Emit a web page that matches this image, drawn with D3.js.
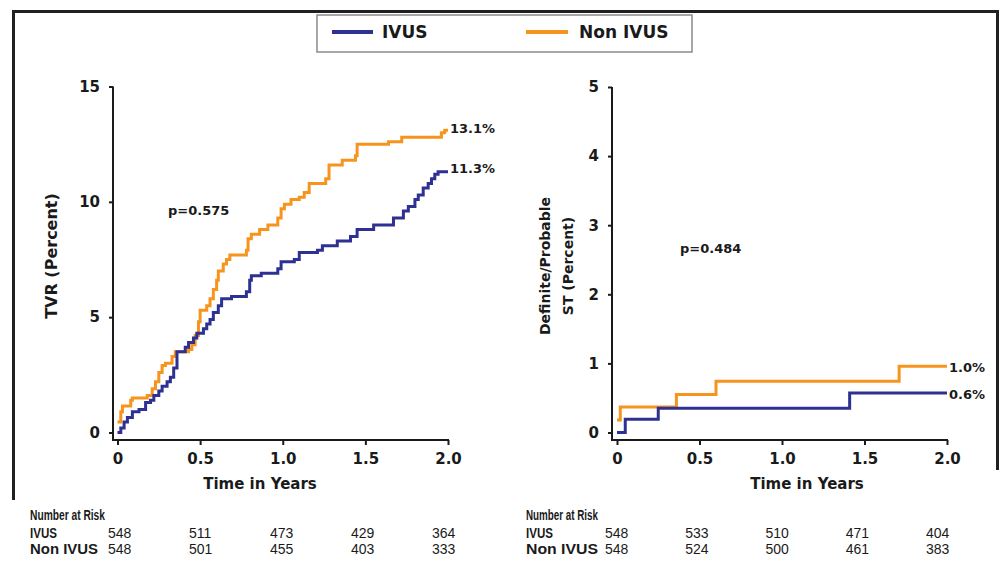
<!DOCTYPE html>
<html><head><meta charset="utf-8">
<script src="https://cdn.jsdelivr.net/npm/d3@7"></script>
<style>
body{margin:0;background:#fff}
svg{display:block}
text{font-family:"DejaVu Sans",Arial,sans-serif;font-weight:bold;fill:#1a1a1a}
</style>
</head><body>
<svg id="c" width="1005" height="573"></svg>
<script>
// ---------- DATA ----------
const seriesNames = ["IVUS", "Non IVUS"];
const seriesColors = ["#2E3192", "#F7941D"];

// TVR (percent), [time in years, cumulative %] at each step
const tvrIVUS = [[0,0],[0.02,0.2],[0.04,0.45],[0.06,0.65],[0.09,0.9],[0.13,1.0],[0.17,1.3],[0.20,1.4],[0.22,1.6],[0.25,1.8],[0.27,2.0],[0.30,2.2],[0.32,2.4],[0.34,2.8],[0.36,3.5],[0.41,3.7],[0.43,3.9],[0.46,4.1],[0.48,4.3],[0.52,4.5],[0.54,4.7],[0.56,4.9],[0.58,5.2],[0.61,5.5],[0.63,5.8],[0.69,5.9],[0.78,6.1],[0.80,6.6],[0.81,6.8],[0.87,6.9],[0.97,7.1],[0.99,7.4],[1.07,7.5],[1.10,7.8],[1.21,7.9],[1.24,8.1],[1.33,8.3],[1.41,8.5],[1.45,8.8],[1.55,9.0],[1.67,9.3],[1.73,9.6],[1.76,9.8],[1.80,10.1],[1.82,10.3],[1.85,10.6],[1.88,10.8],[1.90,11.0],[1.92,11.2],[1.94,11.3],[2.0,11.3]];
const tvrNonIVUS = [[0,0.45],[0.02,0.9],[0.03,1.15],[0.08,1.4],[0.09,1.5],[0.18,1.6],[0.21,1.9],[0.23,2.2],[0.25,2.6],[0.27,2.9],[0.29,3.0],[0.33,3.3],[0.35,3.5],[0.43,3.6],[0.45,3.8],[0.47,4.2],[0.49,4.8],[0.50,5.3],[0.54,5.5],[0.56,5.8],[0.58,6.2],[0.60,6.6],[0.61,7.0],[0.64,7.3],[0.66,7.5],[0.68,7.7],[0.78,7.9],[0.79,8.4],[0.81,8.6],[0.86,8.8],[0.91,9.0],[0.97,9.3],[0.99,9.7],[1.01,9.9],[1.05,10.1],[1.10,10.2],[1.13,10.4],[1.16,10.8],[1.26,11.0],[1.28,11.6],[1.36,11.8],[1.44,12.0],[1.45,12.5],[1.64,12.6],[1.72,12.8],[1.96,13.0],[1.98,13.1],[2.0,13.1]];

// Definite/Probable ST (percent)
const stIVUS = [[0,0],[0.05,0.19],[0.25,0.35],[1.41,0.57],[2.0,0.57]];
const stNonIVUS = [[0,0.18],[0.02,0.37],[0.36,0.55],[0.60,0.74],[1.71,0.96],[2.0,0.96]];

const endLabelsTVR = ["11.3%", "13.1%"];
const endLabelsST = ["0.6%", "1.0%"];
const pTVR = "p=0.575";
const pST = "p=0.484";

const xTicks = [0, 0.5, 1.0, 1.5, 2.0];
const xTickLabels = ["0", "0.5", "1.0", "1.5", "2.0"];
const yTicksTVR = [0, 5, 10, 15];
const yTicksST = [0, 1, 2, 3, 4, 5];

const riskTimes = [0, 0.5, 1.0, 1.5, 2.0];
const riskTVR_IVUS = [548, 511, 473, 429, 364];
const riskTVR_Non = [548, 501, 455, 403, 333];
const riskST_IVUS = [548, 533, 510, 471, 404];
const riskST_Non = [548, 524, 500, 461, 383];

// ---------- DRAW ----------
const svg = d3.select("#c");

// frame
svg.append("path").attr("d", "M13.5,500 L13.5,11.5 L997.5,11.5 L997.5,470")
  .attr("fill", "none").attr("stroke", "#231f20").attr("stroke-width", 3);

// legend
const lg = svg.append("g");
lg.append("rect").attr("x", 317).attr("y", 15).attr("width", 375).attr("height", 37)
  .attr("fill", "#fff").attr("stroke", "#8a8a8a").attr("stroke-width", 1.5);
const legX = [[332, 373, 382], [526, 568, 579]];
seriesNames.forEach((n, i) => {
  lg.append("line").attr("x1", legX[i][0]).attr("x2", legX[i][1]).attr("y1", 32).attr("y2", 32)
    .attr("stroke", seriesColors[i]).attr("stroke-width", 4);
  lg.append("text").attr("x", legX[i][2]).attr("y", 32).attr("dy", "0.36em")
    .style("font-size", "17px").text(n);
});

function panel(cfg) {
  const g = svg.append("g");
  const x = d3.scaleLinear().domain([0, 2]).range(cfg.xr);
  const y = d3.scaleLinear().domain([0, cfg.ymax]).range(cfg.yr);
  const axX = cfg.axisX, axY = cfg.axisY;

  // axis lines
  g.append("path").attr("d", `M${axX},${y(cfg.ymax)} L${axX},${axY} L${x(2) + 1},${axY}`)
    .attr("fill", "none").attr("stroke", "#1a1a1a").attr("stroke-width", 2);

  // y axis ticks
  const ya = g.append("g").attr("transform", `translate(${axX},0)`)
    .call(d3.axisLeft(y).tickValues(cfg.yTicks).tickSize(4).tickPadding(9).tickFormat(d3.format("d")));
  ya.select(".domain").remove();
  ya.selectAll(".tick line").attr("stroke", "#1a1a1a").attr("stroke-width", 2);
  ya.selectAll(".tick text").style("font-size", "15px").style("font-family", '"DejaVu Sans",Arial,sans-serif').attr("fill", "#1a1a1a");

  // x axis ticks
  const xa = g.append("g").attr("transform", `translate(0,${axY})`)
    .call(d3.axisBottom(x).tickValues(xTicks).tickSize(5).tickPadding(8).tickFormat((d, i) => xTickLabels[i]));
  xa.select(".domain").remove();
  xa.selectAll(".tick line").attr("stroke", "#1a1a1a").attr("stroke-width", 2);
  xa.selectAll(".tick text").style("font-size", "15px").style("font-family", '"DejaVu Sans",Arial,sans-serif').attr("fill", "#1a1a1a");

  // x label
  g.append("text").attr("x", cfg.xLabelX).attr("y", 484).attr("dy", "0.36em").attr("text-anchor", "middle")
    .style("font-size", "15px").text("Time in Years");

  // y label(s)
  cfg.yLabels.forEach((t, i) => {
    g.append("text").attr("transform", `translate(${cfg.yLabelX[i]},${cfg.yLabelY}) rotate(-90)`)
      .attr("text-anchor", "middle").attr("dy", "0.36em").style("font-size", cfg.yLabelSize).text(t);
  });

  // curves
  const line = d3.line().x(d => x(d[0])).y(d => y(d[1])).curve(d3.curveStepAfter);
  [1, 0].forEach(i => {
    g.append("path").datum(cfg.series[i]).attr("d", line)
      .attr("fill", "none").attr("stroke", seriesColors[i]).attr("stroke-width", 3);
  });

  // end labels
  cfg.endLabels.forEach((t, i) => {
    g.append("text").attr("x", x(2) + 2).attr("y", cfg.endLabelY[i]).attr("dy", "0.36em")
      .style("font-size", "13px").text(t);
  });

  // p-value
  g.append("text").attr("x", cfg.pPos[0]).attr("y", cfg.pPos[1]).attr("dy", "0.36em")
    .style("font-size", "13px").text(cfg.p);

  // number at risk
  const rx = d3.scaleLinear().domain([0, 2]).range(cfg.riskRange);
  const narFont = '"Liberation Sans",Arial,sans-serif';
  g.append("text").attr("x", cfg.riskLabelX).attr("y", 515).attr("dy", "0.36em")
    .style("font-family", narFont).style("font-size", "14px")
    .attr("textLength", cfg.riskLabelW[0]).attr("lengthAdjust", "spacingAndGlyphs").text("Number at Risk");
  const rows = [[seriesNames[0], cfg.risk[0], 533, cfg.riskLabelW[1]], [seriesNames[1], cfg.risk[1], 549, cfg.riskLabelW[2]]];
  rows.forEach(r => {
    g.append("text").attr("x", cfg.riskLabelX).attr("y", r[2]).attr("dy", "0.36em")
      .style("font-family", narFont).style("font-size", "14px")
      .attr("textLength", r[3]).attr("lengthAdjust", "spacingAndGlyphs").text(r[0]);
    g.selectAll(null).data(r[1]).enter().append("text")
      .attr("x", (d, i) => rx(riskTimes[i])).attr("y", r[2]).attr("dy", "0.36em")
      .style("font-family", narFont).style("font-weight", "normal").style("font-size", "14px")
      .attr("fill", "#2a2a2a").text(d => d);
  });
}

panel({
  xr: [117.5, 448], yr: [432.5, 86.5], ymax: 15, axisX: 113, axisY: 440,
  yTicks: yTicksTVR, series: [tvrIVUS, tvrNonIVUS],
  xLabelX: 260, yLabels: ["TVR (Percent)"], yLabelX: [51], yLabelY: 256, yLabelSize: "16px",
  endLabels: endLabelsTVR, endLabelY: [168, 128],
  p: pTVR, pPos: [168, 210],
  riskRange: [108, 432], riskLabelX: 30, riskLabelW: [75, 27, 68],
  risk: [riskTVR_IVUS, riskTVR_Non]
});

panel({
  xr: [617, 947], yr: [432.5, 87], ymax: 5, axisX: 612, axisY: 440,
  yTicks: yTicksST, series: [stIVUS, stNonIVUS],
  xLabelX: 807, yLabels: ["Definite/Probable", "ST (Percent)"], yLabelX: [545, 568], yLabelY: 266, yLabelSize: "14px",
  endLabels: endLabelsST, endLabelY: [394, 367],
  p: pST, pPos: [680, 248],
  riskRange: [605, 926], riskLabelX: 526, riskLabelW: [72, 27, 72],
  risk: [riskST_IVUS, riskST_Non]
});
</script>
</body></html>
